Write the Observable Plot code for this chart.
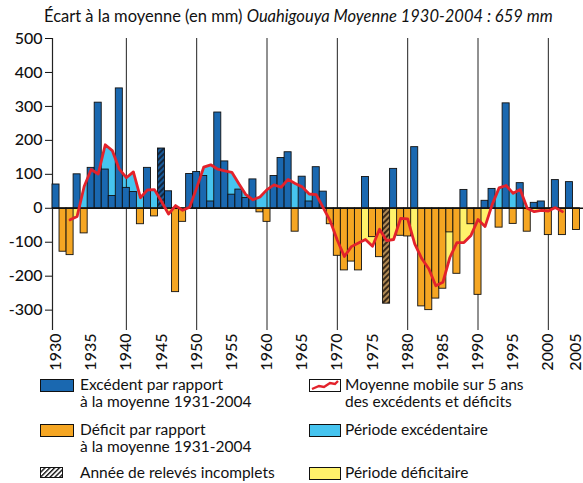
<!DOCTYPE html>
<html lang="fr">
<head>
<meta charset="utf-8">
<script src="https://cdn.jsdelivr.net/npm/d3@7"></script>
<script src="https://cdn.jsdelivr.net/npm/@observablehq/plot@0.6"></script>
<style>
  body { margin: 0; background: #fff; font-family: Lato, "Open Sans", sans-serif; color: #111; }
  #wrap { position: relative; width: 583px; height: 483px; overflow: hidden; background: #fff; }
  #title { position: absolute; left: 44px; top: 6px; font-size: 16.5px; white-space: nowrap; }
  #chart { position: absolute; left: 0; top: 28px; }
  .lg { position: absolute; font-size: 15.5px; line-height: 16.5px; white-space: nowrap; }
  .sw { position: absolute; overflow: visible; }
</style>
</head>
<body>
<!-- shared fill patterns for incomplete-record years -->
<svg width="0" height="0" style="position:absolute">
  <defs>
    <pattern id="hatchBrown" patternUnits="userSpaceOnUse" width="4" height="4" patternTransform="rotate(45)">
      <rect width="4" height="4" fill="#b08a55"></rect>
      <rect width="2" height="4" fill="#3a2a18"></rect>
    </pattern>
    <pattern id="hatchBlue" patternUnits="userSpaceOnUse" width="4" height="4" patternTransform="rotate(45)">
      <rect width="4" height="4" fill="#1a5a98"></rect>
      <rect width="2" height="4" fill="#12263f"></rect>
    </pattern>
    <pattern id="hatchKey" patternUnits="userSpaceOnUse" width="3.4" height="3.4" patternTransform="rotate(45)">
      <rect width="3.4" height="3.4" fill="#fff"></rect>
      <rect width="1.4" height="3.4" fill="#111"></rect>
    </pattern>
  </defs>
</svg>

<div id="wrap">
  <div id="title">Écart à la moyenne (en mm) <i>Ouahigouya Moyenne 1930-2004 : 659 mm</i></div>
  <div id="chart"></div>

  <!-- legend, left column -->
  <svg class="sw" style="left:40px;top:379px" width="34" height="13"><rect x="0.5" y="0.5" width="33" height="12" fill="#1a68b0" stroke="#111"></rect></svg>
  <div class="lg" style="left:80px;top:376px">Excédent par rapport<br>à la moyenne 1931-2004</div>
  <svg class="sw" style="left:40px;top:424px" width="34" height="13"><rect x="0.5" y="0.5" width="33" height="12" fill="#f5a623" stroke="#111"></rect></svg>
  <div class="lg" style="left:80px;top:421px">Déficit par rapport<br>à la moyenne 1931-2004</div>
  <svg class="sw" style="left:40px;top:467px" width="23" height="11"><rect x="0.5" y="0.5" width="22" height="10" fill="url(#hatchKey)" stroke="#111"></rect></svg>
  <div class="lg" style="left:80px;top:464px">Année de relevés incomplets</div>

  <!-- legend, right column -->
  <svg class="sw" style="left:309px;top:379px" width="32" height="13"><rect x="0.5" y="0.5" width="31" height="12" fill="#fff" stroke="#111"></rect><polyline points="3,10 10,7 15,8 21,4 26,5 29,2" fill="none" stroke="#e3222b" stroke-width="2.4"></polyline></svg>
  <div class="lg" style="left:345px;top:376px">Moyenne mobile sur 5 ans<br>des excédents et déficits</div>
  <svg class="sw" style="left:309px;top:424px" width="32" height="13"><rect x="0.5" y="0.5" width="31" height="12" fill="#46c4ef" stroke="#111"></rect></svg>
  <div class="lg" style="left:345px;top:421px">Période excédentaire</div>
  <svg class="sw" style="left:309px;top:467px" width="32" height="13"><rect x="0.5" y="0.5" width="31" height="12" fill="#fff26b" stroke="#111"></rect></svg>
  <div class="lg" style="left:345px;top:464px">Période déficitaire</div>
</div>

<script>
// Years of record, 1930-2004
const years = [
  1930, 1931, 1932, 1933, 1934, 1935, 1936, 1937, 1938, 1939,
  1940, 1941, 1942, 1943, 1944, 1945, 1946, 1947, 1948, 1949,
  1950, 1951, 1952, 1953, 1954, 1955, 1956, 1957, 1958, 1959,
  1960, 1961, 1962, 1963, 1964, 1965, 1966, 1967, 1968, 1969,
  1970, 1971, 1972, 1973, 1974, 1975, 1976, 1977, 1978, 1979,
  1980, 1981, 1982, 1983, 1984, 1985, 1986, 1987, 1988, 1989,
  1990, 1991, 1992, 1993, 1994, 1995, 1996, 1997, 1998, 1999,
  2000, 2001, 2002, 2003, 2004
];

// Annual departure from the mean rainfall (mm)
const ecarts = [
  70, -128, -138, 100, -74, 119, 311, 114, 36, 353,
  60, 48, -47, 119, -24, 176, 50, -247, -40, 101,
  107, 95, 20, 282, 138, 40, 55, 30, 85, -12,
  -40, 95, 148, 165, -69, 93, 20, 121, 49, -47,
  -140, -183, -157, -183, 92, -85, -144, -281, 116, -81,
  -83, 180, -289, -300, -266, -237, -71, -193, 54, -47,
  -255, 22, 57, -57, 309, -46, 74, -69, 16, 20,
  -79, 83, -79, 77, -64
];

// Years with incomplete records
const incomplets = [1945, 1977];

// 5-year moving average of the departures, 1932-2002
const moyenneYears = years.slice(2, -2);
const moyenneMobile = [
  -34, -24, 64, 114, 101, 187, 170, 115, 90, 107,
  31, 54, 55, 20, -17, 8, -6, 3, 60, 121,
  128, 115, 110, 106, 72, 40, 25, 33, 55, 69,
  62, 85, 73, 63, 42, 40, 1, -38, -94, -142,
  -113, -102, -92, -112, -62, -95, -92, -30, -31, -105,
  -148, -178, -228, -218, -145, -101, -101, -80, -33, -54,
  10, 60, 67, 44, 55, 0, -10, -6, -8, 2, -10
];

// Axis ticks
const xTicks = [1930, 1935, 1940, 1945, 1950, 1955, 1960, 1965, 1970, 1975, 1980, 1985, 1990, 1995, 2000, 2005];
const decades = [1940, 1950, 1960, 1970, 1980, 1990, 2000];
const yTicks = [-300, -200, -100, 0, 100, 200, 300, 400, 500];

const bars = years.map((year, i) => ({year, value: ecarts[i], incomplet: incomplets.includes(year)}));
const ma = moyenneYears.map((year, i) => ({year, ma: moyenneMobile[i]}));

const complete = bars.filter(d => !d.incomplet);
const partial = bars.filter(d => d.incomplet);

const barOpts = {x1: d => d.year - 0.5, x2: d => d.year + 0.5, y1: 0, y2: "value", stroke: "#111", strokeWidth: 0.9};

const plot = Plot.plot({
  width: 583,
  height: 342,
  marginLeft: 52,
  marginRight: 0,
  marginTop: 10,
  marginBottom: 40,
  style: {fontFamily: "Lato, 'Open Sans', sans-serif", fontSize: "16px", fontWeight: 500, color: "#111", background: "transparent", overflow: "visible"},
  x: {domain: [1929.5, 2005], ticks: xTicks, tickFormat: d => String(d), tickRotate: -90, tickSize: 0, tickPadding: 3, label: null},
  y: {domain: [-360, 500], ticks: yTicks, tickFormat: d => String(d), tickSize: 7, tickPadding: 3, label: null},
  marks: [
    // surplus / deficit periods under the moving average
    Plot.areaY(ma, {x: "year", y1: 0, y2: "ma", fill: "#46c4ef"}),
    Plot.areaY(ma, {x: "year", y1: 0, y2: "ma", fill: "#fff26b"}),
    // decade grid lines and the left axis line
    Plot.ruleX(decades, {y1: -360, y2: 500, stroke: "#222", strokeWidth: 1}),
    Plot.ruleX([1929.5], {y1: -360, y2: 500, stroke: "#222", strokeWidth: 1.2}),
    // annual bars
    Plot.rectY(complete.filter(d => d.value >= 0), {...barOpts, fill: "#1a68b0"}),
    Plot.rectY(complete.filter(d => d.value < 0), {...barOpts, fill: "#f5a623"}),
    Plot.rectY(partial.filter(d => d.value >= 0), {...barOpts, fill: "url(#hatchBlue)"}),
    Plot.rectY(partial.filter(d => d.value < 0), {...barOpts, fill: "url(#hatchBrown)"}),
    Plot.ruleY([0], {stroke: "#111", strokeWidth: 1.5}),
    // moving average
    Plot.line(ma, {x: "year", y: "ma", stroke: "#e3222b", strokeWidth: 2.8, strokeLinejoin: "round"})
  ]
});

// Split the period fill at zero: blue above, yellow below
const ys = plot.scale("y");
const y0 = ys.range[0] + (0 - ys.domain[0]) / (ys.domain[1] - ys.domain[0]) * (ys.range[1] - ys.range[0]);
const ns = "http://www.w3.org/2000/svg";
const defs = document.createElementNS(ns, "defs");
const mkClip = (id, y, h) => {
  const cp = document.createElementNS(ns, "clipPath");
  cp.setAttribute("id", id);
  const r = document.createElementNS(ns, "rect");
  r.setAttribute("x", 0); r.setAttribute("y", y);
  r.setAttribute("width", 583); r.setAttribute("height", h);
  cp.appendChild(r);
  defs.appendChild(cp);
};
mkClip("clipPos", 0, y0);
mkClip("clipNeg", y0, 342 - y0);
plot.insertBefore(defs, plot.firstChild);
const areas = plot.querySelectorAll('g[aria-label="area"]');
areas[0].setAttribute("clip-path", "url(#clipPos)");
areas[1].setAttribute("clip-path", "url(#clipNeg)");

// Keep the last year label inside the right edge
for (const t of plot.querySelectorAll("text")) {
  if (t.textContent === "2005") {
    const g = document.createElementNS(ns, "g");
    g.setAttribute("transform", "translate(-8,0)");
    t.parentNode.insertBefore(g, t);
    g.appendChild(t);
  }
}

document.getElementById("chart").appendChild(plot);
</script>
</body>
</html>
